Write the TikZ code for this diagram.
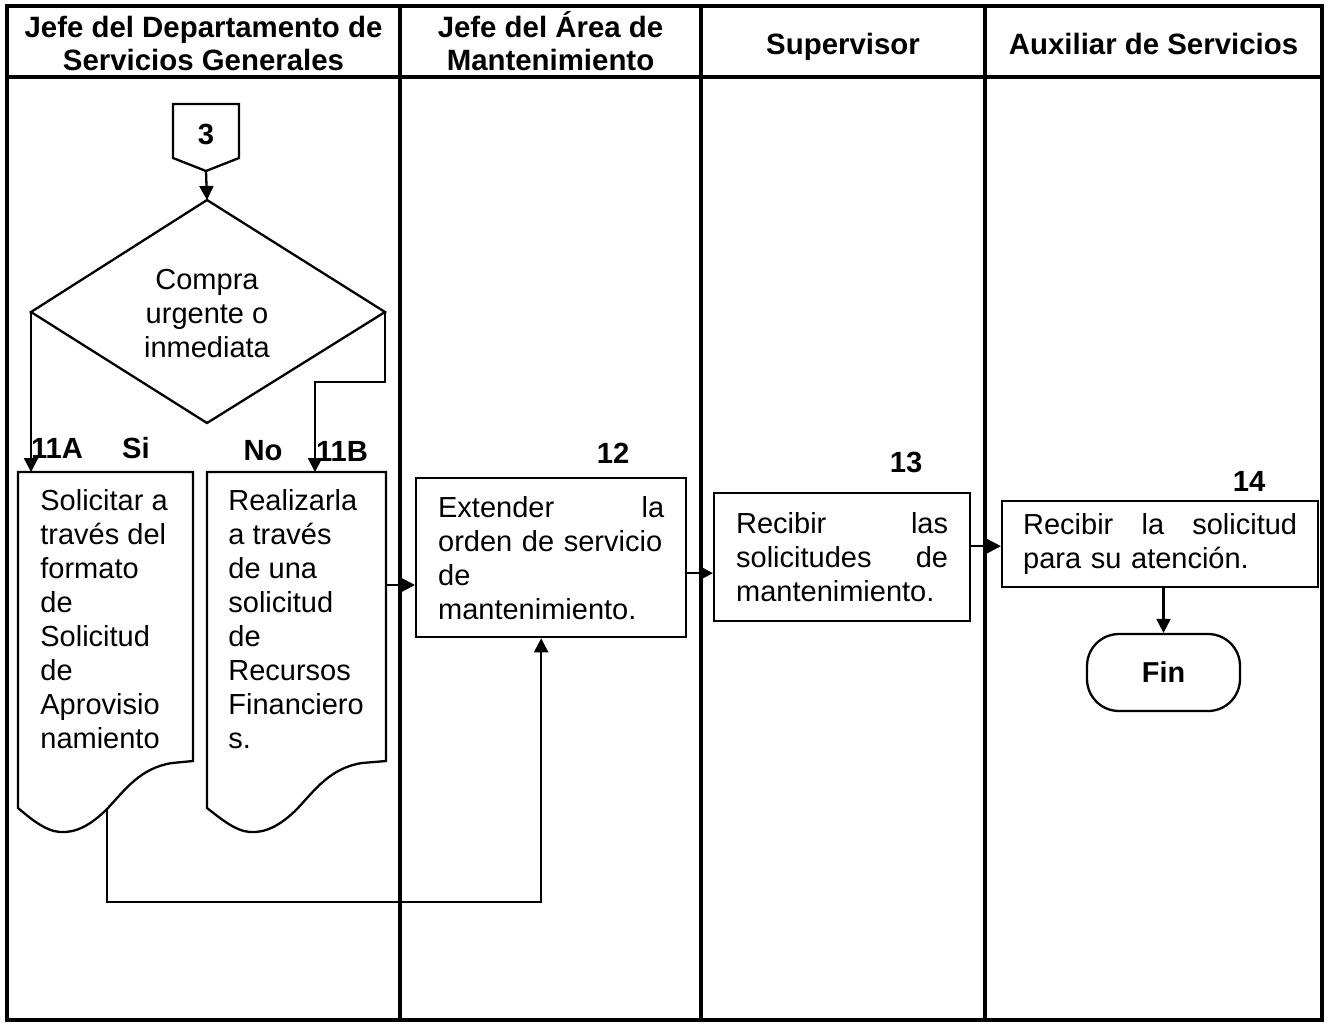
\documentclass[tikz,border=0pt]{standalone}
\usepackage{fontspec}
\setmainfont{Liberation Sans}
\usetikzlibrary{arrows.meta,calc}
\begin{document}
\begin{tikzpicture}[x=0.5pt,y=-0.5pt,
 frame/.style={line width=1.7pt},
 shp/.style={draw,line width=1.15pt},
 conn/.style={line width=1.15pt,-{Triangle[length=7pt,width=7pt]}},
 hdr/.style={font=\fontsize{14.7pt}{16.5pt}\selectfont\bfseries,align=center,inner sep=0pt},
 body/.style={font=\fontsize{14.5pt}{17pt}\selectfont},
 num/.style={font=\fontsize{14.6pt}{16pt}\selectfont\bfseries,inner sep=0pt},
 doctext/.style={body,align=left,inner sep=0pt,anchor=north west},
 procbox/.style={shp,body,align=left,inner xsep=11pt,inner ysep=0pt,anchor=north west}
]
\useasboundingbox (0,0) rectangle (1328,1024);
% frame and lanes
\draw[frame] (7,6) rectangle (1322,1020);
\draw[frame] (7,77) -- (1322,77);
\draw[frame] (400,6) -- (400,1020);
\draw[frame] (701,6) -- (701,1020);
\draw[frame] (985,6) -- (985,1020);
\node[hdr] (h1) at (203.5,43.5) {Jefe del Departamento de\\Servicios Generales};
\node[hdr] (h2) at (550.5,41) {Jefe del Área de\\Mantenimiento};
\node[hdr] (h3) at (843,46.5) {Supervisor};
\node[hdr] (h4) at (1153.5,44) {Auxiliar de Servicios};

% off-page connector 3
\draw[shp] (173,104) -- (239,104) -- (239,158) -- (206,171) -- (173,158) -- cycle;
\node[num] (c3) at (206,134) {3};
\coordinate (c3tip) at (206,171);

% decision
\coordinate (dtop) at (207,200);
\coordinate (dright) at (385,312);
\coordinate (dbot) at (207,423);
\coordinate (dleft) at (31,312);
\draw[shp] (dtop) -- (dright) -- (dbot) -- (dleft) -- cycle;
\node[body,align=center,inner sep=0pt] (dtext) at (207,314) {Compra\\urgente o\\inmediata};
\draw[conn] (c3tip) -- (dtop);

% document 11A
\draw[shp] (18,472) -- (193,472) -- (193,761) -- (172,763)
  .. controls (140,768) and (125,790) .. (107,809)
  .. controls (90,826) and (75,833) .. (60,832)
  .. controls (45,831) and (30,818) .. (18,808) -- cycle;
\coordinate (a11top) at (31,472);
\coordinate (a11w) at (107,809);
\node[doctext] (t11a) at (40,489) {Solicitar a\\través del\\formato\\de\\Solicitud\\de\\Aprovisio\\namiento};

% document 11B
\draw[shp] (207,472) -- (386,472) -- (386,761) -- (362,763)
  .. controls (330,768) and (315,790) .. (297,809)
  .. controls (280,826) and (265,833) .. (250,832)
  .. controls (235,831) and (220,818) .. (207,808) -- cycle;
\coordinate (b11top) at (315,472);
\coordinate (b11r) at (386,585);
\node[doctext] (t11b) at (228,489) {Realizarla\\a través\\de una\\solicitud\\de\\Recursos\\Financiero\\s.};

% labels
\node[num] (l11a) at (57,448) {11A};
\node[num] (lsi) at (136,448) {Si};
\node[num] (lno) at (263,451) {No};
\node[num] (l11b) at (342,451) {11B};
\node[num] (l12) at (613,453) {12};
\node[num] (l13) at (906,462) {13};
\node[num] (l14) at (1249,481) {14};

% process boxes
\node[procbox,text width=113pt,minimum height=79.5pt] (b12) at (415,477)
  {Extender\hfill la\\orden de servicio\\de\\mantenimiento.};
\node[procbox,text width=106pt,minimum height=64pt] (b13) at (713,492)
  {Recibir\hfill las\\solicitudes\hfill de\\mantenimiento.};
\node[procbox,inner xsep=10.5pt,text width=137pt,minimum height=43pt] (b14) at (1001,500)
  {Recibir\hfill la\hfill solicitud\\para su atención.};
\node[shp,rectangle,rounded corners=16pt,minimum width=76.5pt,minimum height=38.5pt,
  font=\fontsize{14.4pt}{16pt}\selectfont\bfseries] (fin) at (1163.5,672.5) {Fin};

% connectors
\draw[conn] (dleft) -- (dleft |- a11top);
\draw[conn] (dright) -- ++(0,70) -| (b11top);
\draw[conn] (b11r) -- (b11r -| b12.west);
\draw[conn] (a11w) -- ++(0,93) -| ($(b12.south)+(-10,0)$);
\coordinate (p12) at ($(b12.east)+(0,15.5)$);
\draw[conn] (p12) -- (p12 -| b13.west);
\coordinate (p13) at ($(b13.east)+(0,-11)$);
\draw[conn] (p13) -- (p13 -| b14.west);
\draw[conn] (fin.north |- b14.south) -- (fin.north);
\end{tikzpicture}
\end{document}
